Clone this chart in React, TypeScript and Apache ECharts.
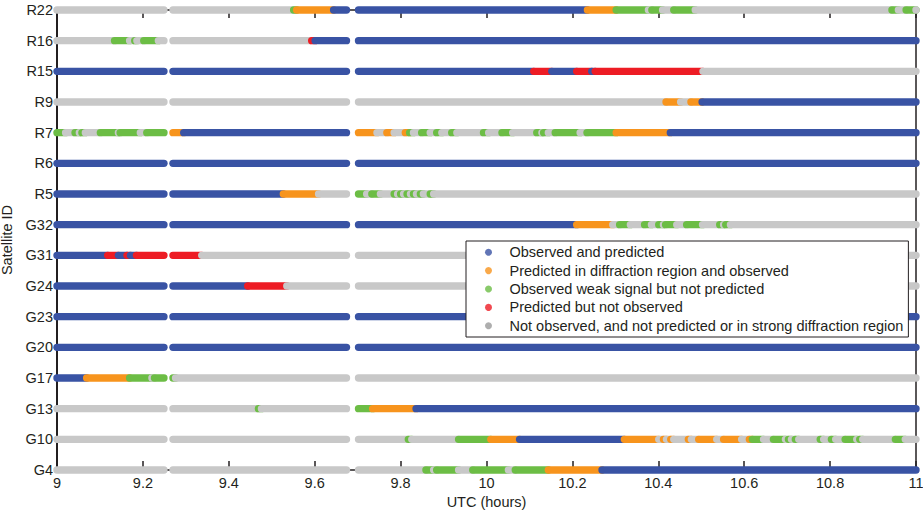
import React, { useEffect, useRef } from "react";
import * as echarts from "echarts";

// Satellites, bottom to top
const satellites = ["G4", "G10", "G13", "G17", "G20", "G23", "G24", "G31", "G32", "R5", "R6", "R7", "R9", "R15", "R16", "R22"];

// Status legend
const statusNames = [
  "Observed and predicted",
  "Predicted in diffraction region and observed",
  "Observed weak signal but not predicted",
  "Predicted but not observed",
  "Not observed, and not predicted or in strong diffraction region",
];
const statusCodes = ["B", "O", "G", "R", "Y"];
const statusColors = ["#3953a4", "#f7941d", "#6cbd45", "#ed1c24", "#c8c8c8"];
const legendColors = ["#3953a4", "#f7941d", "#6cbd45", "#ed1c24", "#9a9a9a"];

// Runs: [first sample time (UTC h), last sample time, status]
const G4 = [
  [9.0, 9.249, "Y"], [9.27, 9.674, "Y"],
  [9.702, 9.859, "Y"], [9.859, 9.877, "G"], [9.877, 9.884, "Y"], [9.884, 9.935, "G"], [9.935, 9.968, "Y"],
  [9.968, 10.051, "G"], [10.051, 10.067, "Y"], [10.067, 10.144, "G"], [10.144, 10.269, "O"], [10.269, 11.0, "B"],
];
const G10 = [
  [9.0, 9.249, "Y"], [9.27, 9.674, "Y"],
  [9.702, 9.818, "Y"], [9.818, 9.826, "G"], [9.826, 9.935, "Y"], [9.935, 10.01, "G"], [10.01, 10.077, "O"],
  [10.077, 10.321, "B"], [10.321, 10.401, "O"], [10.401, 10.412, "Y"], [10.412, 10.419, "O"], [10.419, 10.429, "Y"],
  [10.429, 10.436, "O"], [10.436, 10.47, "Y"], [10.47, 10.477, "O"], [10.477, 10.494, "Y"], [10.494, 10.536, "O"],
  [10.536, 10.552, "Y"], [10.552, 10.594, "O"], [10.594, 10.612, "Y"], [10.612, 10.619, "O"], [10.619, 10.645, "G"],
  [10.645, 10.668, "Y"], [10.668, 10.696, "G"], [10.696, 10.703, "Y"], [10.703, 10.71, "G"], [10.71, 10.719, "Y"],
  [10.719, 10.727, "G"], [10.727, 10.777, "Y"], [10.777, 10.785, "G"], [10.785, 10.803, "Y"], [10.803, 10.813, "G"],
  [10.813, 10.835, "Y"], [10.835, 10.862, "G"], [10.862, 10.869, "Y"], [10.869, 10.876, "G"], [10.876, 10.952, "Y"],
  [10.952, 10.975, "G"], [10.975, 11.0, "Y"],
];
const G13 = [
  [9.0, 9.249, "Y"],
  [9.27, 9.469, "Y"], [9.469, 9.476, "G"], [9.476, 9.674, "Y"],
  [9.702, 9.735, "G"], [9.735, 9.836, "O"], [9.836, 11.0, "B"],
];
const G17 = [
  [9.0, 9.069, "B"], [9.069, 9.169, "O"], [9.169, 9.221, "G"], [9.221, 9.227, "Y"], [9.227, 9.249, "G"],
  [9.27, 9.276, "G"], [9.276, 9.674, "Y"],
  [9.702, 11.0, "Y"],
];
const G20 = [[9.0, 9.249, "B"], [9.27, 9.674, "B"], [9.702, 11.0, "B"]];
const G23 = [[9.0, 9.249, "B"], [9.27, 9.674, "B"], [9.702, 11.0, "B"]];
const G24 = [
  [9.0, 9.249, "B"],
  [9.27, 9.444, "B"], [9.444, 9.535, "R"], [9.535, 9.674, "Y"],
  [9.702, 11.0, "Y"],
];
const G31 = [
  [9.0, 9.118, "B"], [9.118, 9.143, "R"], [9.143, 9.163, "B"], [9.163, 9.171, "R"], [9.171, 9.185, "B"], [9.185, 9.249, "R"],
  [9.27, 9.337, "R"], [9.337, 9.674, "Y"],
  [9.702, 11.0, "Y"],
];
const G32 = [
  [9.0, 9.249, "B"], [9.27, 9.674, "B"],
  [9.702, 10.21, "B"], [10.21, 10.294, "O"], [10.294, 10.31, "Y"], [10.31, 10.335, "G"], [10.335, 10.368, "Y"],
  [10.368, 10.384, "G"], [10.384, 10.401, "Y"], [10.401, 10.412, "G"], [10.412, 10.417, "Y"], [10.417, 10.443, "G"],
  [10.443, 10.466, "Y"], [10.466, 10.503, "G"], [10.503, 10.543, "Y"], [10.543, 10.552, "G"], [10.552, 10.557, "Y"],
  [10.557, 10.568, "G"], [10.568, 11.0, "Y"],
];
const R5 = [
  [9.0, 9.249, "B"],
  [9.27, 9.527, "B"], [9.527, 9.609, "O"], [9.609, 9.674, "Y"],
  [9.702, 9.721, "G"], [9.721, 9.733, "Y"], [9.733, 9.753, "G"], [9.753, 9.785, "Y"], [9.785, 9.793, "G"],
  [9.793, 9.8, "Y"], [9.8, 9.807, "G"], [9.807, 9.815, "Y"], [9.815, 9.823, "G"], [9.823, 9.83, "Y"],
  [9.83, 9.837, "G"], [9.837, 9.846, "Y"], [9.846, 9.853, "G"], [9.853, 9.869, "Y"], [9.869, 9.877, "G"],
  [9.877, 11.0, "Y"],
];
const R6 = [[9.0, 9.249, "B"], [9.27, 9.674, "B"], [9.702, 11.0, "B"]];
const R7 = [
  [9.0, 9.02, "G"], [9.02, 9.042, "Y"], [9.042, 9.052, "G"], [9.052, 9.058, "Y"], [9.058, 9.066, "G"],
  [9.066, 9.101, "Y"], [9.101, 9.143, "G"], [9.143, 9.147, "Y"], [9.147, 9.194, "G"], [9.194, 9.209, "Y"],
  [9.209, 9.249, "G"],
  [9.27, 9.295, "O"], [9.295, 9.674, "B"],
  [9.702, 9.745, "O"], [9.745, 9.768, "Y"], [9.768, 9.785, "O"], [9.785, 9.811, "Y"], [9.811, 9.821, "O"],
  [9.821, 9.83, "G"], [9.83, 9.849, "Y"], [9.849, 9.869, "G"], [9.869, 9.884, "Y"], [9.884, 9.896, "G"],
  [9.896, 9.919, "Y"], [9.919, 9.931, "G"], [9.931, 9.993, "Y"], [9.993, 10.005, "G"], [10.005, 10.036, "Y"],
  [10.036, 10.061, "G"], [10.061, 10.117, "Y"], [10.117, 10.129, "G"], [10.129, 10.133, "Y"], [10.133, 10.144, "G"],
  [10.144, 10.16, "Y"], [10.16, 10.218, "G"], [10.218, 10.234, "Y"], [10.234, 10.302, "G"], [10.302, 10.428, "O"],
  [10.428, 11.0, "B"],
];
const R9 = [
  [9.0, 9.249, "Y"], [9.27, 9.674, "Y"],
  [9.702, 10.418, "Y"], [10.418, 10.452, "O"], [10.452, 10.476, "Y"], [10.476, 10.502, "O"], [10.502, 11.0, "B"],
];
const R15 = [
  [9.0, 9.249, "B"], [9.27, 9.674, "B"],
  [9.702, 10.11, "B"], [10.11, 10.152, "R"], [10.152, 10.21, "B"], [10.21, 10.245, "R"], [10.245, 10.253, "B"],
  [10.253, 10.504, "R"], [10.504, 11.0, "Y"],
];
const R16 = [
  [9.0, 9.134, "Y"], [9.134, 9.169, "G"], [9.169, 9.181, "Y"], [9.181, 9.186, "G"], [9.186, 9.202, "Y"],
  [9.202, 9.236, "G"], [9.236, 9.249, "Y"],
  [9.27, 9.593, "Y"], [9.593, 9.601, "R"], [9.601, 9.674, "B"],
  [9.702, 11.0, "B"],
];
const R22 = [
  [9.0, 9.249, "Y"],
  [9.27, 9.551, "Y"], [9.551, 9.558, "G"], [9.558, 9.644, "O"], [9.644, 9.674, "B"],
  [9.702, 10.235, "B"], [10.235, 10.302, "O"], [10.302, 10.377, "G"], [10.377, 10.385, "Y"], [10.385, 10.41, "G"],
  [10.41, 10.436, "Y"], [10.436, 10.486, "G"], [10.486, 10.944, "Y"], [10.944, 10.959, "G"], [10.959, 10.977, "Y"],
  [10.977, 11.0, "G"], [11.0, 11.0, "Y"],
];

const runsBySatellite = [G4, G10, G13, G17, G20, G23, G24, G31, G32, R5, R6, R7, R9, R15, R16, R22];

const FONT = "'Liberation Sans', Arial, Helvetica, sans-serif";
const INK = "#231f20";
const FS = 14.5;

export default function App() {
  const ref = useRef<HTMLDivElement>(null);

  useEffect(() => {
    if (!ref.current) return;
    const chart = echarts.init(ref.current, undefined, { renderer: "svg" });

    const runData: number[][] = [];
    runsBySatellite.forEach((runs, row) => {
      runs.forEach((r: any) => {
        runData.push([row, r[0], r[1], statusCodes.indexOf(r[2])]);
      });
    });

    const R = 3.7;

    const option: any = {
      animation: false,
      textStyle: { fontFamily: FONT },
      grid: { left: 57, right: 7, top: 10, bottom: 42, containLabel: false, outerBoundsMode: "none" },
      xAxis: [
        {
          type: "value",
          min: 9,
          max: 11,
          interval: 0.2,
          position: "bottom",
          axisLine: { show: true, onZero: false, lineStyle: { color: INK, width: 1.5 } },
          axisTick: { show: true, inside: true, length: 9, lineStyle: { color: INK, width: 1.5 } },
          axisLabel: { fontSize: FS, color: INK, margin: 5, fontFamily: FONT },
          splitLine: { show: false },
          name: "UTC (hours)",
          nameLocation: "middle",
          nameGap: 22,
          nameTextStyle: { fontSize: FS, color: INK, fontFamily: FONT },
        },
        {
          type: "value",
          min: 9,
          max: 11,
          interval: 0.2,
          position: "top",
          axisLine: { show: true, onZero: false, lineStyle: { color: INK, width: 1.5 } },
          axisTick: { show: true, inside: true, length: 8, lineStyle: { color: INK, width: 1.5 } },
          axisLabel: { show: false },
          splitLine: { show: false },
        },
      ],
      yAxis: [
        {
          type: "category",
          data: satellites,
          boundaryGap: false,
          axisLine: { show: true, lineStyle: { color: INK, width: 2 } },
          axisTick: { show: false },
          axisLabel: { fontSize: FS, color: INK, margin: 4, fontFamily: FONT },
          splitLine: { show: false },
          name: "Satellite ID",
          nameLocation: "middle",
          nameGap: 37,
          nameRotate: 90,
          nameTextStyle: { fontSize: FS, color: INK, fontFamily: FONT },
        },
        {
          type: "value",
          position: "right",
          min: 0,
          max: 1,
          axisLine: { show: true, lineStyle: { color: INK, width: 1.5 } },
          axisTick: { show: false },
          axisLabel: { show: false },
          splitLine: { show: false },
        },
      ],
      legend: {
        orient: "vertical",
        left: 466,
        top: 241,
        padding: [2, 5, 2, 19],
        itemWidth: 32,
        itemHeight: 7,
        itemGap: 0,
        icon: "circle",
        selectedMode: false,
        backgroundColor: "#ffffff",
        borderColor: INK,
        borderWidth: 1,
        textStyle: { fontSize: FS, color: INK, lineHeight: 18.4, fontFamily: FONT },
        data: statusNames.map((n, i) => ({ name: n, itemStyle: { color: legendColors[i] } })),
      },
      series: [
        {
          type: "custom",
          name: "runs",
          xAxisIndex: 0,
          yAxisIndex: 0,
          encode: { x: [1, 2], y: 0 },
          data: runData,
          silent: true,
          renderItem: (params: any, api: any) => {
            const row = api.value(0);
            const s = api.coord([api.value(1), row]);
            const e = api.coord([api.value(2), row]);
            const color = statusColors[api.value(3)];
            return {
              type: "rect",
              shape: { x: s[0] - R, y: s[1] - R, width: e[0] - s[0] + 2 * R, height: 2 * R, r: R },
              style: { fill: color },
            };
          },
        },
        ...statusNames.map((n, i) => ({
          type: "scatter",
          name: n,
          data: [],
          itemStyle: { color: legendColors[i] },
        })),
      ],
    };

    chart.setOption(option);
    return () => chart.dispose();
  }, []);

  return (
    <div
      ref={ref}
      style={{ position: "fixed", left: 0, top: 0, width: 923, height: 512, background: "#fff" }}
    />
  );
}
